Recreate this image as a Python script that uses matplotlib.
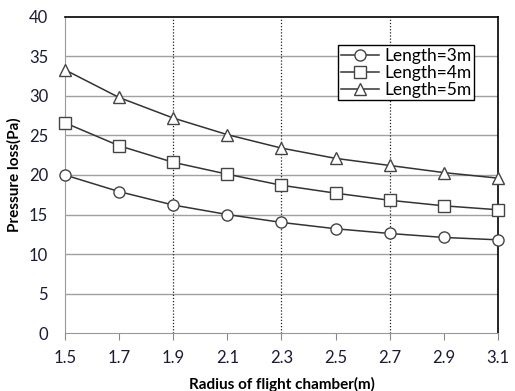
import matplotlib
matplotlib.use("Agg")
import matplotlib.pyplot as plt

radius = [1.5, 1.7, 1.9, 2.1, 2.3, 2.5, 2.7, 2.9, 3.1]
len3 = [20.0, 17.9, 16.2, 15.0, 14.0, 13.2, 12.6, 12.1, 11.8]
len4 = [26.6, 23.7, 21.6, 20.1, 18.7, 17.7, 16.8, 16.1, 15.6]
len5 = [33.3, 29.8, 27.2, 25.1, 23.4, 22.1, 21.2, 20.3, 19.6]
labels = ["Length=3m", "Length=4m", "Length=5m"]
xticks = [1.5, 1.7, 1.9, 2.1, 2.3, 2.5, 2.7, 2.9, 3.1]
yticks = [0, 5, 10, 15, 20, 25, 30, 35, 40]
vlines = [1.9, 2.3, 2.7]

plt.rcParams['font.family'] = ['Lato', 'DejaVu Sans']

fig = plt.figure(figsize=(5.15, 3.91), dpi=100)
ax = fig.add_axes([0.126, 0.148, 0.841, 0.809])

for yv in yticks[1:-1]:
    ax.axhline(yv, color='#a0a0a0', lw=1.0, zorder=1)
for xv in vlines:
    ax.axvline(xv, color='#222222', lw=0.9, ls=(0, (1, 1.5)), zorder=1)

style = dict(color='#333333', lw=1.1, mfc='white', mec='#444444', mew=1.0, zorder=3, clip_on=False)
ax.plot(radius, len3, marker='o', ms=8, label=labels[0], **style)
ax.plot(radius, len4, marker='s', ms=8.5, label=labels[1], **style)
ax.plot(radius, len5, marker='^', ms=9, label=labels[2], **style)

ax.set_xlim(1.5, 3.1)
ax.set_ylim(0, 40)
ax.set_xticks(xticks)
ax.set_xticklabels([f"{v:.1f}" for v in xticks])
ax.set_yticks(yticks)
ax.tick_params(axis='x', direction='out', length=5, color='#888888', labelsize=12, labelcolor='#1a1a3a', pad=7)
ax.tick_params(axis='y', length=0, labelsize=12, labelcolor='#1a1a3a', pad=12)

for s in ['top', 'right']:
    ax.spines[s].set_color('black')
    ax.spines[s].set_linewidth(1.2)
ax.spines['left'].set_color('#999999')
ax.spines['bottom'].set_color('#999999')
ax.spines['left'].set_zorder(0.5)

ax.set_xlabel("Radius of flight chamber(m)", fontweight='bold', fontsize=11, labelpad=8)
ax.set_ylabel("Pressure loss(Pa)", fontweight='bold', fontsize=11, labelpad=5)

leg = ax.legend(loc='upper right', bbox_to_anchor=(0.945, 0.91), frameon=True, fancybox=False,
                edgecolor='black', framealpha=1, fontsize=12.5, handlelength=2.2,
                borderpad=0.15, labelspacing=0.05, handletextpad=0.3, borderaxespad=0)
leg.get_frame().set_linewidth(1.0)
leg.set_zorder(5)

fig.savefig("out.png", dpi=100)
